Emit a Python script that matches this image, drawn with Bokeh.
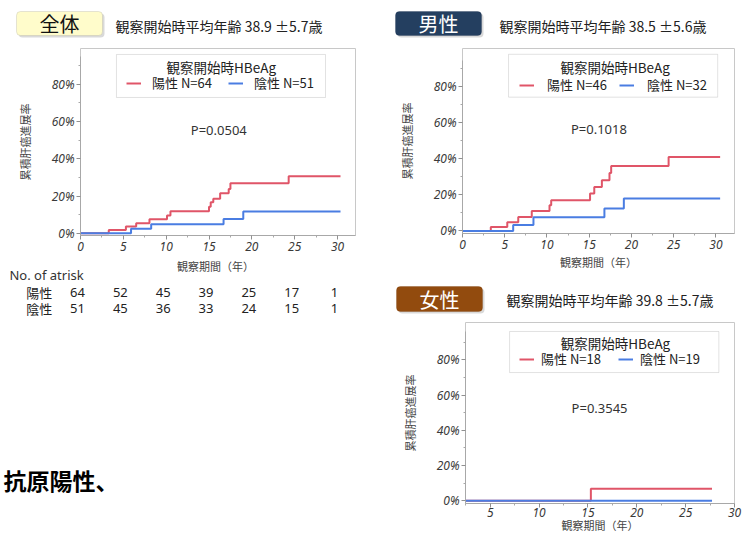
from bokeh.plotting import figure
from bokeh.models import (Range1d, Label, BoxAnnotation, Legend, LegendItem, FixedTicker,
                          CustomJSTickFormatter)
from bokeh.layouts import row, column
from bokeh.embed import file_html
from bokeh.resources import INLINE
from bokeh.core.properties import value

JP = "Noto Sans CJK JP"
LAT = "Noto Sans"

# ---------------- data ----------------
# 全体
all_pos_t = [0, 3.3, 5.3, 6.5, 8.05, 10.1, 10.5, 15.0, 15.2, 15.5, 16.3, 17.3, 17.5, 24.3, 30.35]
all_pos_v = [0, 1.8, 3.6, 5.4, 7.5, 9.5, 11.8, 14.3, 16.6, 18.5, 21.5, 23.8, 26.8, 30.6, 30.6]
all_neg_t = [0, 5.9, 8.25, 16.7, 19.0, 30.35]
all_neg_v = [0, 2.4, 4.8, 7.7, 11.7, 11.7]
# 男性
male_pos_t = [0, 3.35, 5.3, 6.6, 8.2, 10.3, 10.5, 15.1, 15.6, 16.5, 17.4, 17.6, 24.4, 30.5]
male_pos_v = [0, 2.2, 4.8, 7.7, 11.0, 14.2, 17.0, 20.6, 24.3, 28.0, 32.0, 35.9, 40.9, 40.9]
male_neg_t = [0, 6.0, 8.4, 16.8, 19.1, 30.5]
male_neg_v = [0, 3.3, 7.6, 12.4, 17.9, 17.9]
# 女性
fem_pos_t = [0, 15.3, 27.7]
fem_pos_v = [0, 6.9, 6.9]
fem_neg_t = [0, 27.7]
fem_neg_v = [0, 0]

# at risk
risk_times = [0, 5, 10, 15, 20, 25, 30]
risk_pos = [64, 52, 45, 39, 25, 17, 1]
risk_neg = [51, 45, 36, 33, 24, 15, 1]
risk_rows = ["陽性", "陰性"]

group_names = ["全体", "男性", "女性"]
age_titles = ["観察開始時平均年齢 38.9 ±5.7歳", "観察開始時平均年齢 38.5 ±5.6歳", "観察開始時平均年齢 39.8 ±5.7歳"]
p_values = ["P=0.0504", "P=0.1018", "P=0.3545"]
legend_labels = [("陽性 N=64", "陰性 N=51"), ("陽性 N=46", "陰性 N=32"), ("陽性 N=18", "陰性 N=19")]
legend_title = "観察開始時HBeAg"
ylabel = "累積肝癌進展率"
xlabel = "観察期間（年）"
note_text = "抗原陽性、"
y_ticks = [0, 20, 40, 60, 80]
y_minor = [10, 30, 50, 70, 90]

RED = "#E05568"
BLUE = "#4A7DE2"


def bare(width, height, xr, yr):
    f = figure(width=width, height=height, x_range=Range1d(*xr), y_range=Range1d(*yr),
               output_backend="svg", toolbar_location=None, x_axis_type=None, y_axis_type=None,
               min_border=0, min_border_left=0, min_border_right=0, min_border_top=0,
               min_border_bottom=0, outline_line_color=None)
    f.grid.visible = False
    return f


def header(width, height, box, text, fill, line, tcolor, tx, ty, title):
    h = bare(width, height, (0, width), (0, height))
    l, t, r, b = box
    h.add_layout(BoxAnnotation(left=l + 2, right=r + 2, top=height - t - 2, bottom=height - b - 2,
                               fill_color="#000000", fill_alpha=0.15, line_color=None, border_radius=4))
    h.add_layout(BoxAnnotation(left=l, right=r, top=height - t, bottom=height - b,
                               fill_color=fill, fill_alpha=1.0, line_color=line, line_width=1,
                               border_radius=4))
    h.add_layout(Label(x=(l + r) / 2, y=height - (t + b) / 2, text=text, text_align="center",
                       text_baseline="middle", text_font=JP, text_font_size="20px", text_color=tcolor))
    h.add_layout(Label(x=tx, y=height - ty, text=title, text_align="left", text_baseline="middle",
                       text_font=JP, text_font_size="14px", text_color="#222222"))
    return h


def chart(width, height, borders, xr, yr, ybound, xticks, xminor, pos, neg, labels,
          leg_box, leg_title_xy, leg_loc, pval_xy, with_xlabel=True, standoff=11, spacing=15):
    left, top, right, bottom = borders
    p = figure(width=width, height=height, x_range=Range1d(*xr), y_range=Range1d(*yr),
               output_backend="svg", toolbar_location=None,
               min_border_left=left, min_border_top=top, min_border_right=right,
               min_border_bottom=bottom)
    p.grid.visible = False
    p.outline_line_color = "#C8C8C8"

    p.xaxis.ticker = FixedTicker(ticks=xticks, minor_ticks=xminor)
    p.yaxis.ticker = FixedTicker(ticks=y_ticks, minor_ticks=y_minor)
    p.yaxis.formatter = CustomJSTickFormatter(code="return tick + '%';")
    p.yaxis.bounds = (yr[0], ybound)
    for ax in (p.xaxis[0], p.yaxis[0]):
        ax.axis_line_color = "#A8A8A8"
        ax.major_tick_line_color = "#909090"
        ax.minor_tick_line_color = "#A8A8A8"
        ax.major_tick_out = 4
        ax.major_tick_in = 0
        ax.minor_tick_out = 2
        ax.minor_tick_in = 0
        ax.major_label_text_font = LAT
        ax.major_label_text_font_style = "italic"
        ax.major_label_text_font_size = "12px"
        ax.major_label_text_color = "#3A3A3A"
        ax.axis_label_text_font = JP
        ax.axis_label_text_font_style = "normal"
        ax.axis_label_text_font_size = "11px"
        ax.axis_label_text_color = "#444444"
    p.yaxis.axis_label = ylabel
    p.yaxis.major_label_standoff = 2
    p.yaxis.axis_label_standoff = 16
    p.xaxis.major_label_standoff = 2
    p.xaxis.axis_label_standoff = 2
    if with_xlabel:
        p.xaxis.axis_label = xlabel

    r_pos = p.step(x=pos[0], y=pos[1], mode="after", line_color=RED, line_width=2)
    r_neg = p.step(x=neg[0], y=neg[1], mode="after", line_color=BLUE, line_width=2)

    # legend frame + title
    bl, br, bb, bt = leg_box
    p.add_layout(BoxAnnotation(left=bl, right=br, bottom=bb, top=bt, fill_color="white",
                               fill_alpha=1.0, line_color="#A0A0A0", line_width=1))
    p.add_layout(Label(x=leg_title_xy[0], y=leg_title_xy[1], text=legend_title, text_align="center",
                       text_baseline="middle", text_font=JP, text_font_size="13.5px",
                       text_color="#222222"))
    leg = Legend(items=[LegendItem(label=labels[0], renderers=[r_pos]),
                        LegendItem(label=labels[1], renderers=[r_neg])],
                 orientation="horizontal", location=leg_loc, padding=0, margin=0, spacing=spacing,
                 glyph_width=15, glyph_height=14, label_height=14, label_standoff=standoff,
                 border_line_color=None, background_fill_alpha=0,
                 label_text_font=JP, label_text_font_size="13px", label_text_color="#222222")
    p.add_layout(leg)

    p.add_layout(Label(x=pval_xy[0], y=pval_xy[1], text=pval_xy[2], text_align="center",
                       text_baseline="middle", text_font=LAT, text_font_size="13px",
                       text_color="#333333"))
    return p


# ---------------- left column ----------------
h_all = header(380, 44, (16, 11, 102, 35), group_names[0], "#FFFCCB", "#A8A8A0", "#111111", 115, 25, age_titles[0])

p_all = chart(380, 215, (80, 4, 25, 24), (0, 32.1), (-1.2, 99.2), 95,
              [0, 5, 10, 15, 20, 25, 30], [2.5, 7.5, 12.5, 17.5, 22.5, 27.5],
              (all_pos_t, all_pos_v), (all_neg_t, all_neg_v), legend_labels[0],
              (4.2, 28.6, 72.9, 96.0), (16.43, 89.2), (46, 143), (16.14, 55.5, p_values[0]),
              with_xlabel=False, standoff=11, spacing=16)

# below the chart: x-axis title, at-risk table and the bold note; same x scale as the chart
px_per_year = 275 / 32.1
t_tab = bare(380, 278, (-80 / px_per_year, 300 / px_per_year), (0, 278))
t_tab.text(x=[15.76], y=[272], text=[xlabel], text_align="center", text_baseline="middle",
           text_font=value(JP), text_font_size="11px", text_color="#444444")
t_tab.text(x=[-8.29], y=[262.5], text=["No. of atrisk"], text_align="left", text_baseline="middle",
           text_font=value(LAT), text_font_size="13px", text_color="#333333")
row_y = [244.7, 228.7]
t_tab.text(x=[-6.34, -6.34], y=row_y, text=risk_rows, text_align="left", text_baseline="middle",
           text_font=value(JP), text_font_size="13px", text_color="#222222")
t_tab.text(x=[t - 0.35 for t in risk_times], y=[row_y[0]] * len(risk_times),
           text=[str(v) for v in risk_pos], text_align="center", text_baseline="middle",
           text_font=value(LAT), text_font_size="13px", text_color="#222222")
t_tab.text(x=[t - 0.35 for t in risk_times], y=[row_y[1]] * len(risk_times),
           text=[str(v) for v in risk_neg], text_align="center", text_baseline="middle",
           text_font=value(LAT), text_font_size="13px", text_color="#222222")
t_tab.text(x=[-8.99], y=[58], text=[note_text], text_align="left", text_baseline="middle",
           text_font=value(JP), text_font_size="23px", text_font_style="bold", text_color="#000000")

# ---------------- right column ----------------
h_male = header(371, 44, (15, 11, 101, 35), group_names[1], "#243F60", "#1C3350", "#FFFFFF", 119, 25, age_titles[1])

p_male = chart(371, 236, (82, 4, 17, 47), (0, 32.2), (-1.44, 100.8), 94,
               [0, 5, 10, 15, 20, 25, 30], [2.5, 7.5, 12.5, 17.5, 22.5, 27.5],
               (male_pos_t, male_pos_v), (male_neg_t, male_neg_v), legend_labels[1],
               (5.45, 30.21, 73.9, 97.6), (18.07, 90.6), (57, 139), (16.15, 56.2, p_values[1]),
               standoff=13, spacing=12)

h_fem = header(371, 38, (16, 6, 102, 31), group_names[2], "#924B0E", "#7A3D08", "#FFFFFF", 126, 19, age_titles[2])

p_fem = chart(371, 219, (85, 4, 17, 34), (2.47, 30.0), (-1.53, 101.2), 96,
              [5, 10, 15, 20, 25, 30], [2.5, 7.5, 12.5, 17.5, 22.5, 27.5],
              (fem_pos_t, fem_pos_v), (fem_neg_t, fem_neg_v), legend_labels[2],
              (6.98, 28.4, 72.8, 96.1), (17.82, 89.3), (54, 135), (16.19, 52.8, p_values[2]),
              standoff=7, spacing=17)
p_fem.xaxis.major_label_standoff = 0
p_fem.xaxis.axis_label_standoff = -3

left = column(column(h_all), column(p_all), column(t_tab))
right = column(column(h_male), column(p_male), column(h_fem), column(p_fem))
layout = row(left, right)

open("out.html", "w").write(file_html(layout, INLINE))
